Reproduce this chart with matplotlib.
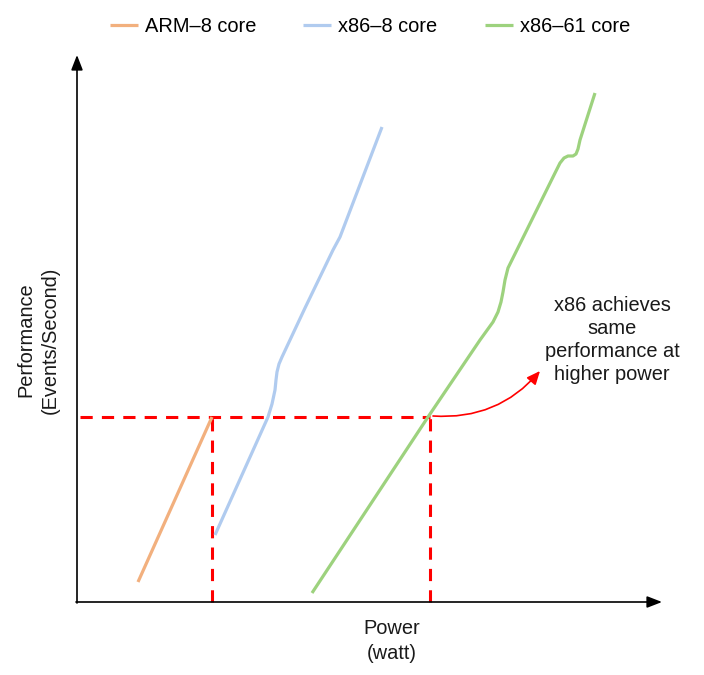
# Performance vs power sketch: ARM 8 core vs x86 8 / 61 core
import matplotlib.pyplot as plt

plt.rcParams['font.family'] = ['Liberation Sans', 'DejaVu Sans']

# === Data (power, performance) in chart units ===
arm_power = [61, 135]
arm_perf = [20, 185]

x86_8_power = [138, 191, 195, 198, 199, 200, 202, 205, 228, 256, 263, 305]
x86_8_perf = [67, 185, 198, 212, 222, 230, 238, 245, 294, 352, 365, 475]

x86_61_power = [235, 351, 403, 416, 421, 424, 426, 428, 431, 478, 483, 487,
                491, 496, 499, 501, 503, 518]
x86_61_perf = [9, 185, 262, 280, 290, 300, 310, 322, 334, 429, 439, 444,
               446, 446, 448, 453, 462, 509]

same_perf = 185          # performance level both machines reach
arm_power_at = 135       # power used by ARM at that level
x86_power_at = 353       # power used by x86 at that level

series_names = ["ARM\u20138 core", "x86\u20138 core", "x86\u201361 core"]
series_colors = ["#F2B07E", "#B0CBEF", "#9DD27E"]

note_text = "x86 achieves\nsame\nperformance at\nhigher power"
note_pos = (535, 262)
note_arrow_end = (463, 231)

# === Figure ===
fig = plt.figure(figsize=(7.04, 6.75), dpi=100)
ax = fig.add_axes([0, 0, 1, 1])
ax.set_xlim(-77, 627)
ax.set_ylim(-73, 602)
ax.axis("off")

lines = []
for px, py, name, col in zip([arm_power, x86_8_power, x86_61_power],
                             [arm_perf, x86_8_perf, x86_61_perf],
                             series_names, series_colors):
    ln, = ax.plot(px, py, color=col, lw=2.3, solid_capstyle="butt",
                  solid_joinstyle="round", label=name, zorder=3)
    lines.append(ln)

# red dashed guide lines
dash = (0, (4, 3))
ax.plot([3, x86_power_at], [same_perf, same_perf], color="#FF0000", lw=2.2,
        ls=dash, zorder=2)
ax.plot([arm_power_at, arm_power_at], [0, same_perf], color="#FF0000", lw=2.2,
        ls=dash, zorder=2)
ax.plot([x86_power_at, x86_power_at], [0, same_perf], color="#FF0000", lw=2.2,
        ls=dash, zorder=2)

# axes with arrows
ax.annotate("", xy=(585, 0), xytext=(-1, 0),
            arrowprops=dict(arrowstyle="-|>,head_length=0.9,head_width=0.35",
                            color="black", lw=1.2, shrinkA=0, shrinkB=0))
ax.annotate("", xy=(0, 547), xytext=(0, -1),
            arrowprops=dict(arrowstyle="-|>,head_length=0.9,head_width=0.35",
                            color="black", lw=1.2, shrinkA=0, shrinkB=0))

ax.text(315, -39, "Power\n(watt)", ha="center", va="center", fontsize=14.4,
        color="#1a1a1a", linespacing=1.38)
ax.text(-39, 262, "Performance\n(Events/Second)", ha="center", va="center",
        rotation=90, fontsize=14.4, color="#1a1a1a", linespacing=1.38)

# annotation
ax.text(*note_pos, note_text, ha="center", va="center", fontsize=14.4,
        color="#1a1a1a", linespacing=1.25)
ax.annotate("", xy=note_arrow_end, xytext=(x86_power_at + 3, same_perf + 1),
            arrowprops=dict(arrowstyle="-|>,head_length=0.8,head_width=0.35",
                            color="#FF0000", lw=1.2, shrinkA=0, shrinkB=0,
                            connectionstyle="arc3,rad=0.25"))

fig.legend(handles=lines, loc="center left", bbox_to_anchor=(110 / 704, 1 - 26 / 675),
           ncol=3, frameon=False, fontsize=14.4, handlelength=1.4,
           handletextpad=0.35, columnspacing=2.35, borderpad=0, borderaxespad=0)

fig.savefig("out.png", dpi=100)
